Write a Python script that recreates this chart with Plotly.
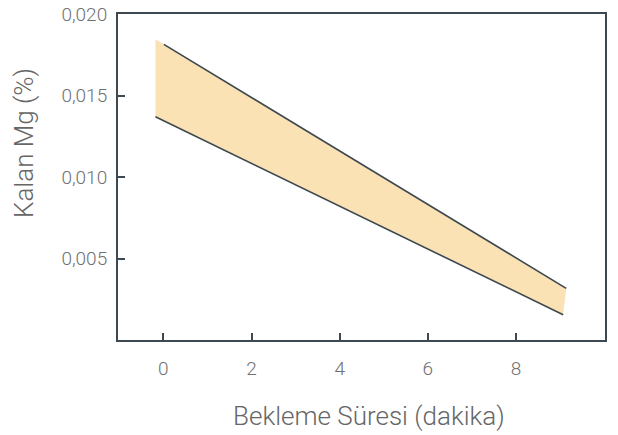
import plotly.graph_objects as go

# Band data
band_x = [-0.18, 9.14, 9.07, -0.18]
band_y = [0.01845, 0.00317, 0.00155, 0.0137]
upper_x = [0.01, 9.14]
upper_y = [0.01814, 0.00317]
lower_x = [-0.18, 9.07]
lower_y = [0.0137, 0.00155]
x_ticks = [0, 2, 4, 6, 8]
y_ticks = [0.005, 0.010, 0.015, 0.020]
x_title = "Bekleme Süresi (dakika)"
y_title = "Kalan Mg (%)"

line_col = "#3d4850"
FONT = "Roboto, Liberation Sans, Arial, sans-serif"
fig = go.Figure()
fig.add_trace(go.Scatter(x=band_x, y=band_y, fill="toself", fillcolor="#fbe2b4",
                         line=dict(width=0), mode="lines", hoverinfo="skip"))
fig.add_trace(go.Scatter(x=upper_x, y=upper_y, mode="lines", line=dict(color=line_col, width=1.6)))
fig.add_trace(go.Scatter(x=lower_x, y=lower_y, mode="lines", line=dict(color=line_col, width=1.6)))

W, H = 618, 435
L, T, R, B = 118, 14, 13, 95
pw, ph = W - L - R, H - T - B

def px_to_paper(sx, sy):
    return (sx - L) / pw, (H - B - sy) / ph

xt_x, xt_y = px_to_paper(369, 416)
yt_x, yt_y = px_to_paper(24, 143)

fig.update_layout(
    width=W, height=H,
    margin=dict(l=L, r=R, t=T, b=B, autoexpand=False),
    paper_bgcolor="white", plot_bgcolor="white",
    showlegend=False,
    separators=",.",
    font=dict(family=FONT, color="#707070", weight=300),
    annotations=[
        dict(text=x_title, xref="paper", yref="paper", x=xt_x, y=xt_y,
             showarrow=False, xanchor="center", yanchor="middle",
             font=dict(family=FONT, size=26, color="#666666", weight=300)),
        dict(text=y_title, xref="paper", yref="paper", x=yt_x, y=yt_y,
             showarrow=False, xanchor="center", yanchor="middle", textangle=-90,
             font=dict(family=FONT, size=26, color="#666666", weight=300)),
    ],
)
fig.update_xaxes(range=[-1.03, 10.02], tickvals=x_ticks, showgrid=False, zeroline=False,
                 automargin=False,
                 showline=True, linecolor=line_col, linewidth=2, mirror=True,
                 ticks="inside", ticklen=7, tickcolor=line_col, tickwidth=1.5,
                 ticklabelstandoff=10,
                 tickfont=dict(family=FONT, size=19, color="#707070", weight=300))
fig.update_yaxes(range=[0, 0.020], tickvals=y_ticks, tickformat=".3f", showgrid=False, zeroline=False,
                 automargin=False, ticklabeloverflow="allow",
                 showline=True, linecolor=line_col, linewidth=2, mirror=True,
                 ticks="inside", ticklen=7, tickcolor=line_col, tickwidth=1.5,
                 ticklabelstandoff=5,
                 tickfont=dict(family=FONT, size=19, color="#707070", weight=300))
fig.write_html("out.html", config={"displayModeBar": False},
               post_script="document.body.style.margin='0';document.documentElement.style.overflow='hidden';")
